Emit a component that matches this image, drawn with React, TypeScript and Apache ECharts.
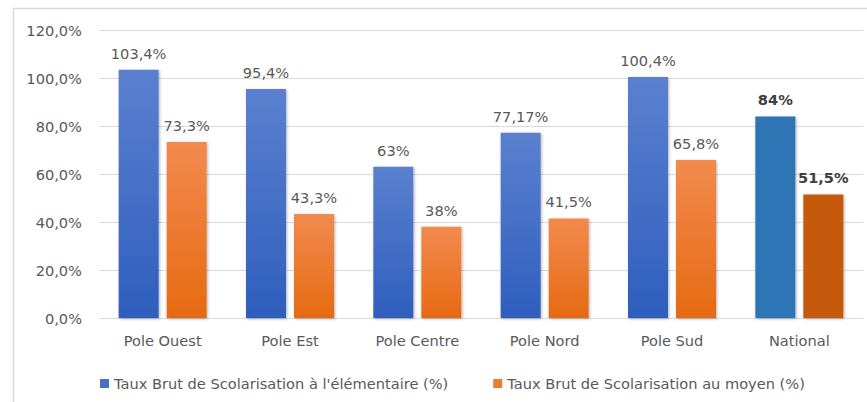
import React, { useEffect, useRef } from "react";
import * as echarts from "echarts";

const categories = ["Pole Ouest", "Pole Est", "Pole Centre", "Pole Nord", "Pole Sud", "National"];
const elementaire = [103.4, 95.4, 63, 77.17, 100.4, 84];
const moyen = [73.3, 43.3, 38, 41.5, 65.8, 51.5];
const seriesNames = [
  "Taux Brut de Scolarisation à l'élémentaire (%)",
  "Taux Brut de Scolarisation au moyen (%)",
];
const yTicks = { min: 0, max: 120, interval: 20 };

const FONT = "DejaVu Sans";
const FS = 14.6;
const fmt = (v: number) => String(v).replace(".", ",") + "%";

const blueGrad = () =>
  new echarts.graphic.LinearGradient(0, 0, 0, 1, [
    { offset: 0, color: "#5B80CF" },
    { offset: 1, color: "#2E5EBD" },
  ]);
const orangeGrad = () =>
  new echarts.graphic.LinearGradient(0, 0, 0, 1, [
    { offset: 0, color: "#F28A4E" },
    { offset: 1, color: "#E56A12" },
  ]);

export default function App() {
  const ref = useRef<HTMLDivElement>(null);
  useEffect(() => {
    if (!ref.current) return;
    const chart = echarts.init(ref.current, null, { renderer: "svg" });
    const last = categories.length - 1;
    const mk = (vals: number[], grad: () => any, natColor: string) =>
      vals.map((v, i) =>
        i === last
          ? {
              value: v,
              itemStyle: { color: natColor },
              label: { fontWeight: "bold", color: "#404040" },
            }
          : { value: v, itemStyle: { color: grad() } }
      );
    const shadow = {
      shadowBlur: 3,
      shadowColor: "rgba(0,0,0,0.3)",
      shadowOffsetX: 1,
      shadowOffsetY: 1,
    };
    const labelCfg = {
      show: true,
      position: "top",
      distance: 9,
      color: "#595959",
      fontSize: FS,
      fontFamily: FONT,
      formatter: (p: any) => fmt(p.value),
    };
    chart.setOption({
      animation: false,
      backgroundColor: "#ffffff",
      textStyle: { fontFamily: FONT },
      grid: { left: 99, right: 4, top: 30, bottom: 84 },
      legend: {
        left: 95,
        top: 371,
        itemWidth: 9,
        itemHeight: 9,
        itemGap: 45,
        icon: "rect",
        textStyle: { fontFamily: FONT, fontSize: FS, color: "#595959" },
        data: [
          { name: seriesNames[0], itemStyle: { color: "#4472C4" } },
          { name: seriesNames[1], itemStyle: { color: "#ED7D31" } },
        ],
      },
      xAxis: {
        type: "category",
        data: categories,
        axisLine: { lineStyle: { color: "#D9D9D9" } },
        axisTick: { show: false },
        axisLabel: { color: "#595959", fontSize: FS, fontFamily: FONT, margin: 15 },
      },
      yAxis: {
        type: "value",
        min: yTicks.min,
        max: yTicks.max,
        interval: yTicks.interval,
        axisLine: { show: false },
        axisTick: { show: false },
        splitLine: { lineStyle: { color: "#D9D9D9" } },
        axisLabel: {
          color: "#595959",
          fontSize: FS,
          fontFamily: FONT,
          margin: 17,
          formatter: (v: number) => v.toFixed(1).replace(".", ",") + "%",
        },
      },
      series: [
        {
          name: seriesNames[0],
          type: "bar",
          barWidth: 40,
          barGap: "20%",
          data: mk(elementaire, blueGrad, "#2E75B6"),
          itemStyle: { ...shadow },
          label: labelCfg,
        },
        {
          name: seriesNames[1],
          type: "bar",
          barWidth: 40,
          barGap: "20%",
          data: mk(moyen, orangeGrad, "#C55A11"),
          itemStyle: { ...shadow },
          label: labelCfg,
        },
      ],
      graphic: [
        { type: "line", shape: { x1: 13.5, y1: 8, x2: 13.5, y2: 402 }, style: { stroke: "#D9D9D9", lineWidth: 1.5 }, silent: true },
        { type: "line", shape: { x1: 13, y1: 8.5, x2: 867, y2: 8.5 }, style: { stroke: "#D9D9D9", lineWidth: 1.5 }, silent: true },
      ],
    });
    return () => chart.dispose();
  }, []);
  return (
    <div
      ref={ref}
      style={{ position: "fixed", left: 0, top: 0, width: 867, height: 402 }}
    />
  );
}
